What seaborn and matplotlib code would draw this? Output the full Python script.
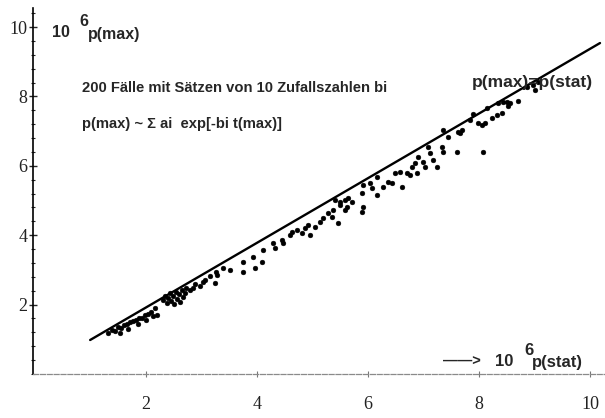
import numpy as np
import pandas as pd
import seaborn as sns
import matplotlib.pyplot as plt
from matplotlib.ticker import MultipleLocator

# -----------------------------
# Data
# -----------------------------
p_stat = [
    1.32, 1.39, 1.44, 1.50, 1.55, 1.60, 1.66, 1.71, 1.77, 1.82,
    1.87, 1.93, 1.98, 2.04, 2.09, 1.53, 1.68, 1.86, 2.00, 2.13,
    2.16, 2.20,
    2.31, 2.34, 2.38, 2.40, 2.43, 2.45, 2.49, 2.50, 2.54, 2.56,
    2.59, 2.61, 2.65, 2.67, 2.70, 2.72,
    2.79, 2.85, 2.88, 2.97, 3.03, 3.06, 3.15, 3.24, 3.26, 3.28,
    3.39, 3.51, 3.75, 3.75, 3.93, 3.96, 4.09, 4.11, 4.29, 4.32,
    4.45, 4.47, 4.59, 4.63, 4.72, 4.81, 4.86, 4.92, 4.95, 5.05,
    5.14, 5.19, 5.28, 5.35, 5.37, 5.46, 5.50, 5.59, 5.62,
    5.41, 5.50, 5.64, 5.71, 5.59, 5.89, 5.91, 5.89, 5.91, 6.04,
    6.07, 6.16, 6.16, 6.27, 6.36, 6.43, 6.49, 6.58, 6.61, 6.70,
    6.79, 6.76, 6.85, 6.88, 6.90, 6.99, 7.03, 7.08, 7.12, 7.17,
    7.24, 7.33, 7.35, 7.44, 7.60,
    7.35, 7.62, 7.66, 7.69, 7.84, 7.89, 7.98, 8.05, 8.11, 8.14,
    8.23, 8.32, 8.34, 8.41, 8.43, 8.50, 8.52, 8.56, 8.70, 8.86,
    8.97, 9.01, 9.06, 8.07,
]
p_max = [
    1.18, 1.27, 1.24, 1.35, 1.33, 1.41, 1.44, 1.50, 1.53, 1.56,
    1.61, 1.61, 1.70, 1.73, 1.79, 1.18, 1.30, 1.44, 1.56, 1.67,
    1.90, 1.70,
    2.13, 2.25, 2.05, 2.19, 2.33, 2.10, 2.25, 2.02, 2.36, 2.16,
    2.31, 2.07, 2.42, 2.22, 2.33, 2.48,
    2.42, 2.48, 2.59, 2.54, 2.65, 2.71, 2.82, 2.62, 2.94, 2.85,
    3.05, 3.00, 3.23, 2.94, 3.37, 3.05, 3.23, 3.57, 3.78, 3.63,
    3.86, 3.78, 4.01, 4.09, 4.15, 4.06, 4.21, 4.29, 4.01, 4.24,
    4.38, 4.50, 4.64, 4.52, 4.73, 4.35, 4.87, 5.01, 4.81,
    5.01, 4.96, 5.07, 4.96, 4.73, 4.67, 4.81, 5.22, 5.45, 5.50,
    5.36, 5.16, 5.68, 5.39, 5.53, 5.50, 5.79, 5.82, 5.39, 5.79,
    5.97, 5.73, 6.08, 5.79, 6.25, 6.11, 5.97, 6.54, 6.37, 6.17,
    5.97, 6.54, 6.40, 6.83, 6.40,
    7.03, 6.97, 6.95, 7.03, 7.32, 7.50, 7.23, 7.18, 7.23, 7.66,
    7.38, 7.46, 7.80, 7.52, 7.85, 7.84, 7.72, 7.80, 7.86, 8.26,
    8.33, 8.20, 8.42, 6.40,
]
diag_x = [0.99, 10.18]
diag_y = [0.98, 9.54]

x_ticks = [2, 4, 6, 8, 10]
y_ticks = [2, 4, 6, 8, 10]

# -----------------------------
# Plot
# -----------------------------
sns.set_theme(style='ticks')
plt.rcParams['font.family'] = ['Liberation Sans', 'DejaVu Sans']

df = pd.DataFrame({'p_stat': p_stat, 'p_max': p_max})

fig = plt.figure(figsize=(6.05, 4.18), dpi=100)
ax = fig.add_axes([33 / 605, 44 / 418, 572 / 605, 366 / 418])

sns.lineplot(x=diag_x, y=diag_y, ax=ax, color='black', linewidth=1.7)
sns.scatterplot(data=df, x='p_stat', y='p_max', ax=ax, color='black',
                s=12, edgecolor='black', linewidth=0.3)

ax.set_xlim(-0.04, 10.27)
ax.set_ylim(0, 10.55)
ax.set_xlabel('')
ax.set_ylabel('')

for side in ['top', 'right']:
    ax.spines[side].set_visible(False)
ax.spines['left'].set_linewidth(1.2)
ax.spines['left'].set_color('black')
ax.spines['bottom'].set_linewidth(0.9)
ax.spines['bottom'].set_color('#8a8a8a')
ax.spines['bottom'].set_linestyle((0, (4, 1.5)))

ax.set_xticks(x_ticks)
ax.set_yticks(y_ticks)
ax.set_xticklabels([str(t) for t in x_ticks], family='Liberation Serif', fontsize=13, color='#222222')
ax.set_yticklabels([str(t) for t in y_ticks], family='Liberation Serif', fontsize=13, color='#222222')
ax.yaxis.set_minor_locator(MultipleLocator(0.4))
ax.tick_params(axis='y', which='major', direction='inout', length=6, width=1, pad=1)
ax.tick_params(axis='y', which='minor', direction='inout', length=2.5, width=0.8)
ax.tick_params(axis='x', which='major', direction='inout', length=4, width=0.8,
               color='#777777', pad=14)

# annotations
ax.text(0.30, 9.84, '10', fontsize=11.5, fontweight='bold', va='center', ha='left')
ax.text(0.80, 10.15, '6', fontsize=11.5, fontweight='bold', va='center', ha='left')
ax.text(0.95, 9.80, 'p(max)', fontsize=11.5, fontweight='bold', va='center', ha='left')

ax.text(0.85, 8.24, '200 Fälle mit Sätzen von 10 Zufallszahlen bi',
        fontsize=10.6, fontweight='bold', va='center', ha='left')
ax.text(0.85, 7.20, 'p(max) ~ Σ ai  exp[-bi t(max)]',
        fontsize=10.6, fontweight='bold', va='center', ha='left')

ax.text(7.87, 8.41, 'p(max)=p(stat)', fontsize=12.5, fontweight='bold', va='center', ha='left')

ax.text(7.35, 0.35, '——>', fontsize=10.5, fontweight='bold', va='center', ha='left')
ax.text(8.28, 0.35, '10', fontsize=12, fontweight='bold', va='center', ha='left')
ax.text(8.82, 0.68, '6', fontsize=12, fontweight='bold', va='center', ha='left')
ax.text(8.95, 0.32, 'p(stat)', fontsize=12, fontweight='bold', va='center', ha='left')

fig.savefig('out.png', dpi=100)
plt.close(fig)
